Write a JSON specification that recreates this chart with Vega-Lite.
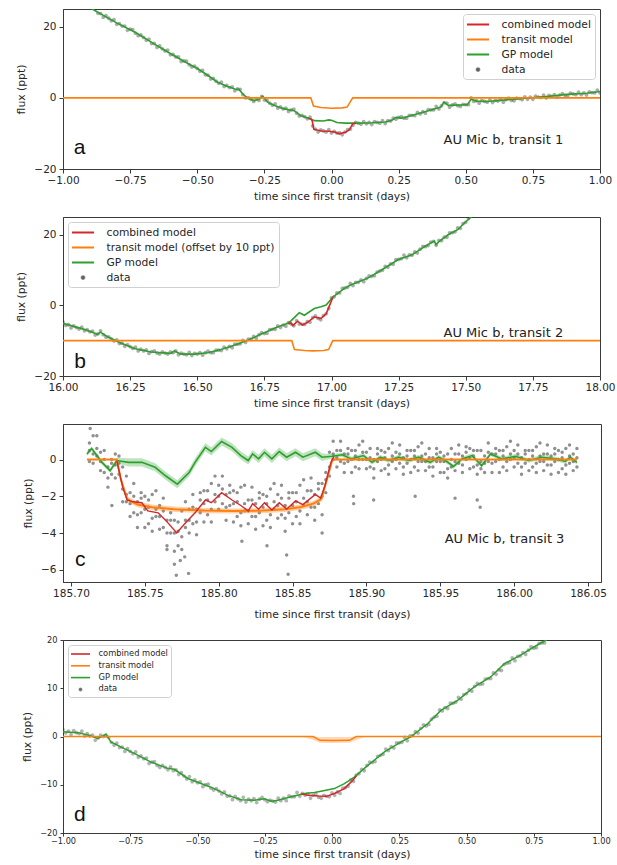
{
"$schema": "https://vega.github.io/schema/vega-lite/v6.json",
"background": "white",
"padding": {"left": 15, "top": 8, "right": 10, "bottom": 2},
"spacing": 14,
"config": {
 "font": "DejaVu Sans",
 "view": {"stroke": "#3a3a3a", "strokeWidth": 1},
 "axis": {"grid": false, "domainColor": "#3a3a3a", "tickColor": "#3a3a3a", "tickSize": 4, "labelColor": "#262626", "titleColor": "#262626", "labelFont": "DejaVu Sans", "titleFont": "DejaVu Sans", "labelFontSize": 10.5, "titleFontSize": 10.8, "titleFontWeight": "normal", "labelFlush": false, "labelOverlap": false, "labelPadding": 2, "titlePadding": 5},
 "axisY": {"labelPadding": 3, "titlePadding": 7},
 "legend": {"fillColor": "white", "strokeColor": "#d0d0d0", "cornerRadius": 3, "padding": 4, "labelFont": "DejaVu Sans", "labelColor": "#262626", "labelFontSize": 10.7, "labelLimit": 400, "symbolSize": 121, "symbolStrokeWidth": 2, "symbolOffset": 4.5, "labelOffset": 17, "rowPadding": 3, "symbolOpacity": 1}
},
"resolve": {"scale": {"color": "independent", "shape": "independent"}, "legend": {"color": "independent", "shape": "independent"}},
"datasets": {
 "ad": [{"t":-0.88,"f":24.9},{"t":-0.87,"f":23.8},{"t":-0.86,"f":23.7},{"t":-0.85,"f":22.7},{"t":-0.84,"f":23.1},{"t":-0.83,"f":22.4},{"t":-0.82,"f":21.7},{"t":-0.81,"f":22.0},{"t":-0.80,"f":20.7},{"t":-0.79,"f":20.9},{"t":-0.78,"f":20.2},{"t":-0.77,"f":20.2},{"t":-0.76,"f":19.0},{"t":-0.75,"f":19.3},{"t":-0.74,"f":19.2},{"t":-0.73,"f":18.2},{"t":-0.72,"f":17.5},{"t":-0.71,"f":17.7},{"t":-0.70,"f":17.0},{"t":-0.69,"f":16.2},{"t":-0.68,"f":16.5},{"t":-0.67,"f":15.3},{"t":-0.66,"f":15.3},{"t":-0.65,"f":14.2},{"t":-0.64,"f":14.6},{"t":-0.63,"f":13.8},{"t":-0.62,"f":13.2},{"t":-0.61,"f":13.4},{"t":-0.60,"f":12.1},{"t":-0.59,"f":12.2},{"t":-0.58,"f":11.5},{"t":-0.57,"f":11.5},{"t":-0.56,"f":10.2},{"t":-0.55,"f":10.4},{"t":-0.54,"f":10.3},{"t":-0.53,"f":9.3},{"t":-0.52,"f":8.7},{"t":-0.51,"f":8.9},{"t":-0.50,"f":8.3},{"t":-0.49,"f":7.5},{"t":-0.48,"f":7.7},{"t":-0.47,"f":6.5},{"t":-0.46,"f":6.4},{"t":-0.45,"f":5.3},{"t":-0.44,"f":5.5},{"t":-0.43,"f":4.7},{"t":-0.42,"f":4.1},{"t":-0.41,"f":4.4},{"t":-0.40,"f":3.2},{"t":-0.39,"f":3.5},{"t":-0.38,"f":2.9},{"t":-0.37,"f":3.1},{"t":-0.36,"f":2.0},{"t":-0.35,"f":2.5},{"t":-0.34,"f":2.4},{"t":-0.33,"f":0.9},{"t":-0.32,"f":0.0},{"t":-0.31,"f":0.1},{"t":-0.30,"f":-0.4},{"t":-0.29,"f":-1.0},{"t":-0.28,"f":-0.2},{"t":-0.27,"f":-0.7},{"t":-0.26,"f":0.4},{"t":-0.25,"f":-0.6},{"t":-0.24,"f":-0.7},{"t":-0.23,"f":-1.5},{"t":-0.22,"f":-2.1},{"t":-0.21,"f":-1.7},{"t":-0.20,"f":-2.9},{"t":-0.19,"f":-2.5},{"t":-0.18,"f":-3.1},{"t":-0.17,"f":-2.9},{"t":-0.16,"f":-3.8},{"t":-0.15,"f":-3.4},{"t":-0.14,"f":-3.2},{"t":-0.13,"f":-4.3},{"t":-0.12,"f":-5.1},{"t":-0.11,"f":-4.9},{"t":-0.10,"f":-5.3},{"t":-0.09,"f":-5.9},{"t":-0.08,"f":-5.4},{"t":-0.07,"f":-7.9},{"t":-0.06,"f":-8.8},{"t":-0.05,"f":-9.6},{"t":-0.04,"f":-9.0},{"t":-0.03,"f":-9.3},{"t":-0.02,"f":-9.6},{"t":-0.01,"f":-8.9},{"t":0.00,"f":-9.9},{"t":0.01,"f":-9.4},{"t":0.02,"f":-9.9},{"t":0.03,"f":-9.8},{"t":0.04,"f":-10.4},{"t":0.05,"f":-9.6},{"t":0.06,"f":-8.9},{"t":0.07,"f":-8.8},{"t":0.08,"f":-7.7},{"t":0.09,"f":-6.9},{"t":0.10,"f":-7.1},{"t":0.11,"f":-7.4},{"t":0.12,"f":-6.7},{"t":0.13,"f":-7.3},{"t":0.14,"f":-6.9},{"t":0.15,"f":-7.5},{"t":0.16,"f":-6.7},{"t":0.17,"f":-6.9},{"t":0.18,"f":-7.1},{"t":0.19,"f":-6.4},{"t":0.20,"f":-7.2},{"t":0.21,"f":-6.4},{"t":0.22,"f":-6.5},{"t":0.23,"f":-5.7},{"t":0.24,"f":-6.0},{"t":0.25,"f":-5.5},{"t":0.26,"f":-5.3},{"t":0.27,"f":-5.7},{"t":0.28,"f":-5.7},{"t":0.29,"f":-4.9},{"t":0.30,"f":-4.9},{"t":0.31,"f":-5.0},{"t":0.32,"f":-4.1},{"t":0.33,"f":-4.5},{"t":0.34,"f":-3.9},{"t":0.35,"f":-4.3},{"t":0.36,"f":-3.3},{"t":0.37,"f":-3.4},{"t":0.38,"f":-3.4},{"t":0.39,"f":-2.4},{"t":0.40,"f":-3.1},{"t":0.41,"f":-2.2},{"t":0.42,"f":-1.4},{"t":0.43,"f":-1.5},{"t":0.44,"f":-2.6},{"t":0.45,"f":-2.0},{"t":0.46,"f":-1.7},{"t":0.47,"f":-2.2},{"t":0.48,"f":-2.4},{"t":0.49,"f":-1.8},{"t":0.50,"f":-1.9},{"t":0.51,"f":-1.9},{"t":0.52,"f":0.0},{"t":0.53,"f":-1.0},{"t":0.54,"f":-0.8},{"t":0.55,"f":-1.5},{"t":0.56,"f":-0.7},{"t":0.57,"f":-1.0},{"t":0.58,"f":-1.2},{"t":0.59,"f":-0.5},{"t":0.60,"f":-1.3},{"t":0.61,"f":-0.7},{"t":0.62,"f":-0.9},{"t":0.63,"f":-0.4},{"t":0.64,"f":-1.2},{"t":0.65,"f":-0.5},{"t":0.66,"f":-0.1},{"t":0.67,"f":-0.7},{"t":0.68,"f":-0.8},{"t":0.69,"f":-0.1},{"t":0.70,"f":-0.2},{"t":0.71,"f":-0.5},{"t":0.72,"f":0.3},{"t":0.73,"f":-0.4},{"t":0.74,"f":0.2},{"t":0.75,"f":-0.4},{"t":0.76,"f":0.5},{"t":0.77,"f":0.2},{"t":0.78,"f":0.1},{"t":0.79,"f":0.8},{"t":0.80,"f":0.0},{"t":0.81,"f":0.7},{"t":0.82,"f":0.4},{"t":0.83,"f":0.9},{"t":0.84,"f":0.2},{"t":0.85,"f":0.8},{"t":0.86,"f":1.2},{"t":0.87,"f":0.7},{"t":0.88,"f":0.6},{"t":0.89,"f":1.3},{"t":0.90,"f":1.1},{"t":0.91,"f":0.9},{"t":0.92,"f":1.6},{"t":0.93,"f":0.9},{"t":0.94,"f":1.4},{"t":0.95,"f":0.8},{"t":0.96,"f":1.7},{"t":0.97,"f":1.5},{"t":0.98,"f":1.4},{"t":0.99,"f":2.2},{"t":1.00,"f":1.4}],
 "ag": [{"t":-0.91,"f":25.8},{"t":-0.896,"f":25.2},{"t":-0.85,"f":23.2},{"t":-0.80,"f":21.1},{"t":-0.728,"f":18.3},{"t":-0.67,"f":15.6},{"t":-0.61,"f":12.9},{"t":-0.55,"f":10.3},{"t":-0.498,"f":8.2},{"t":-0.46,"f":6.3},{"t":-0.424,"f":4.4},{"t":-0.387,"f":3.2},{"t":-0.36,"f":2.5},{"t":-0.345,"f":2.4},{"t":-0.33,"f":1.1},{"t":-0.312,"f":-0.1},{"t":-0.287,"f":-0.75},{"t":-0.27,"f":-0.4},{"t":-0.256,"f":0.5},{"t":-0.238,"f":-1.2},{"t":-0.21,"f":-2.2},{"t":-0.176,"f":-3.1},{"t":-0.139,"f":-3.6},{"t":-0.114,"f":-5.0},{"t":-0.077,"f":-5.9},{"t":-0.064,"f":-6.4},{"t":-0.03,"f":-6.5},{"t":-0.01,"f":-6.2},{"t":0.0,"f":-6.3},{"t":0.02,"f":-6.9},{"t":0.05,"f":-7.1},{"t":0.10,"f":-7.1},{"t":0.15,"f":-7.0},{"t":0.20,"f":-6.8},{"t":0.225,"f":-6.3},{"t":0.24,"f":-5.5},{"t":0.26,"f":-5.7},{"t":0.295,"f":-5.0},{"t":0.357,"f":-3.7},{"t":0.407,"f":-2.6},{"t":0.419,"f":-1.2},{"t":0.435,"f":-2.1},{"t":0.48,"f":-2.0},{"t":0.506,"f":-1.9},{"t":0.52,"f":-0.4},{"t":0.54,"f":-0.9},{"t":0.58,"f":-1.0},{"t":0.631,"f":-0.7},{"t":0.70,"f":-0.2},{"t":0.755,"f":0.1},{"t":0.80,"f":0.4},{"t":0.879,"f":1.0},{"t":0.95,"f":1.3},{"t":1.0,"f":1.8}],
 "at": [{"t":-1,"f":0},{"t":-0.077,"f":0},{"t":-0.067,"f":-2.3},{"t":-0.04,"f":-2.7},{"t":0,"f":-2.9},{"t":0.04,"f":-2.8},{"t":0.058,"f":-2.6},{"t":0.079,"f":0},{"t":1,"f":0}],
 "ac": [{"t":-0.085,"f":-5.75},{"t":-0.077,"f":-5.9},{"t":-0.072,"f":-6.4},{"t":-0.066,"f":-8.8},{"t":-0.039,"f":-9.3},{"t":-0.008,"f":-9.4},{"t":0.011,"f":-9.6},{"t":0.029,"f":-10.1},{"t":0.054,"f":-9.6},{"t":0.067,"f":-8.9},{"t":0.079,"f":-7.3},{"t":0.09,"f":-7.1}],
 "bd": [{"t":16.00,"f":-4.7},{"t":16.01,"f":-5.7},{"t":16.02,"f":-5.5},{"t":16.03,"f":-6.4},{"t":16.04,"f":-5.8},{"t":16.05,"f":-6.3},{"t":16.06,"f":-6.7},{"t":16.07,"f":-6.2},{"t":16.08,"f":-7.2},{"t":16.09,"f":-6.9},{"t":16.10,"f":-7.5},{"t":16.11,"f":-7.3},{"t":16.12,"f":-8.4},{"t":16.13,"f":-8.1},{"t":16.14,"f":-7.2},{"t":16.15,"f":-8.3},{"t":16.16,"f":-9.0},{"t":16.17,"f":-8.9},{"t":16.18,"f":-9.5},{"t":16.19,"f":-10.1},{"t":16.20,"f":-9.8},{"t":16.21,"f":-10.8},{"t":16.22,"f":-10.7},{"t":16.23,"f":-11.6},{"t":16.24,"f":-11.1},{"t":16.25,"f":-11.7},{"t":16.26,"f":-12.2},{"t":16.27,"f":-11.8},{"t":16.28,"f":-12.9},{"t":16.29,"f":-12.4},{"t":16.30,"f":-12.9},{"t":16.31,"f":-12.6},{"t":16.32,"f":-13.6},{"t":16.33,"f":-13.1},{"t":16.34,"f":-12.9},{"t":16.35,"f":-13.5},{"t":16.36,"f":-13.8},{"t":16.37,"f":-13.2},{"t":16.38,"f":-13.5},{"t":16.39,"f":-13.8},{"t":16.40,"f":-13.2},{"t":16.41,"f":-13.4},{"t":16.42,"f":-12.9},{"t":16.43,"f":-14.0},{"t":16.44,"f":-13.5},{"t":16.45,"f":-13.8},{"t":16.46,"f":-14.0},{"t":16.47,"f":-13.3},{"t":16.48,"f":-14.2},{"t":16.49,"f":-13.6},{"t":16.50,"f":-13.8},{"t":16.51,"f":-13.4},{"t":16.52,"f":-14.1},{"t":16.53,"f":-13.4},{"t":16.54,"f":-13.0},{"t":16.55,"f":-13.4},{"t":16.56,"f":-13.4},{"t":16.57,"f":-12.7},{"t":16.58,"f":-12.7},{"t":16.59,"f":-12.8},{"t":16.60,"f":-11.8},{"t":16.61,"f":-12.3},{"t":16.62,"f":-11.6},{"t":16.63,"f":-12.0},{"t":16.64,"f":-11.0},{"t":16.65,"f":-11.0},{"t":16.66,"f":-10.9},{"t":16.67,"f":-9.9},{"t":16.68,"f":-10.5},{"t":16.69,"f":-9.6},{"t":16.70,"f":-9.6},{"t":16.71,"f":-8.8},{"t":16.72,"f":-9.3},{"t":16.73,"f":-8.3},{"t":16.74,"f":-7.7},{"t":16.75,"f":-8.0},{"t":16.76,"f":-7.9},{"t":16.77,"f":-6.9},{"t":16.78,"f":-6.8},{"t":16.79,"f":-6.8},{"t":16.80,"f":-5.8},{"t":16.81,"f":-6.3},{"t":16.82,"f":-5.6},{"t":16.83,"f":-5.9},{"t":16.84,"f":-4.9},{"t":16.85,"f":-5.3},{"t":16.86,"f":-5.8},{"t":16.87,"f":-4.3},{"t":16.88,"f":-5.3},{"t":16.89,"f":-5.3},{"t":16.90,"f":-5.4},{"t":16.91,"f":-4.6},{"t":16.92,"f":-4.8},{"t":16.93,"f":-3.5},{"t":16.94,"f":-3.0},{"t":16.95,"f":-3.7},{"t":16.96,"f":-4.1},{"t":16.97,"f":-2.9},{"t":16.98,"f":-2.4},{"t":16.99,"f":-0.9},{"t":17.00,"f":2.1},{"t":17.01,"f":2.4},{"t":17.02,"f":3.5},{"t":17.03,"f":3.5},{"t":17.04,"f":4.8},{"t":17.05,"f":4.9},{"t":17.06,"f":5.1},{"t":17.07,"f":6.2},{"t":17.08,"f":5.6},{"t":17.09,"f":6.5},{"t":17.10,"f":6.5},{"t":17.11,"f":7.2},{"t":17.12,"f":6.7},{"t":17.13,"f":7.6},{"t":17.14,"f":8.3},{"t":17.15,"f":8.2},{"t":17.16,"f":8.4},{"t":17.17,"f":9.4},{"t":17.18,"f":9.7},{"t":17.19,"f":9.9},{"t":17.20,"f":11.0},{"t":17.21,"f":10.8},{"t":17.22,"f":11.7},{"t":17.23,"f":11.6},{"t":17.24,"f":12.9},{"t":17.25,"f":13.0},{"t":17.26,"f":13.2},{"t":17.27,"f":14.2},{"t":17.28,"f":13.5},{"t":17.29,"f":14.3},{"t":17.30,"f":14.2},{"t":17.31,"f":15.1},{"t":17.32,"f":14.8},{"t":17.33,"f":15.9},{"t":17.34,"f":16.7},{"t":17.35,"f":16.6},{"t":17.36,"f":16.9},{"t":17.37,"f":17.9},{"t":17.38,"f":18.1},{"t":17.39,"f":17.0},{"t":17.40,"f":18.4},{"t":17.41,"f":18.3},{"t":17.42,"f":19.3},{"t":17.43,"f":19.3},{"t":17.44,"f":20.5},{"t":17.45,"f":20.6},{"t":17.46,"f":20.8},{"t":17.47,"f":21.9},{"t":17.48,"f":21.8},{"t":17.49,"f":23.1},{"t":17.50,"f":23.5},{"t":17.51,"f":24.6}],
 "bg": [{"t":16.0,"f":-5.1},{"t":16.079,"f":-6.8},{"t":16.129,"f":-8.2},{"t":16.139,"f":-7.6},{"t":16.166,"f":-8.9},{"t":16.204,"f":-10.3},{"t":16.266,"f":-12.2},{"t":16.328,"f":-13.2},{"t":16.402,"f":-13.6},{"t":16.415,"f":-12.9},{"t":16.439,"f":-13.8},{"t":16.489,"f":-13.8},{"t":16.539,"f":-13.4},{"t":16.588,"f":-12.5},{"t":16.638,"f":-11.3},{"t":16.688,"f":-9.9},{"t":16.737,"f":-8.2},{"t":16.787,"f":-6.5},{"t":16.837,"f":-5.1},{"t":16.849,"f":-4.4},{"t":16.868,"f":-3.0},{"t":16.88,"f":-2.1},{"t":16.899,"f":-2.8},{"t":16.936,"f":-0.9},{"t":16.961,"f":-0.4},{"t":16.98,"f":0.1},{"t":17.005,"f":2.3},{"t":17.048,"f":4.8},{"t":17.073,"f":5.8},{"t":17.135,"f":7.7},{"t":17.197,"f":10.5},{"t":17.247,"f":12.9},{"t":17.30,"f":14.3},{"t":17.35,"f":16.8},{"t":17.383,"f":18.2},{"t":17.389,"f":17.2},{"t":17.40,"f":18.0},{"t":17.433,"f":19.9},{"t":17.47,"f":21.4},{"t":17.495,"f":23.3},{"t":17.52,"f":25.0},{"t":17.535,"f":26.5}],
 "bt": [{"t":16,"f":-10},{"t":16.852,"f":-10},{"t":16.862,"f":-12.5},{"t":16.9,"f":-12.8},{"t":16.93,"f":-12.9},{"t":16.97,"f":-12.8},{"t":16.989,"f":-12.5},{"t":17.005,"f":-10},{"t":18,"f":-10}],
 "bc": [{"t":16.84,"f":-5.2},{"t":16.849,"f":-5.0},{"t":16.856,"f":-5.7},{"t":16.874,"f":-4.5},{"t":16.892,"f":-5.6},{"t":16.911,"f":-4.8},{"t":16.936,"f":-3.3},{"t":16.961,"f":-3.7},{"t":16.98,"f":-2.4},{"t":16.993,"f":0.0},{"t":17.005,"f":2.3}],
 "cd": [{"t":185.7125,"a":0.9,"b":-0.1,"c":0.5},{"t":185.715,"a":0.3,"b":1.3,"c":-0.2},{"t":185.7175,"a":0.6,"b":0.2,"c":1.3},{"t":185.72,"a":-0.6,"b":0.4,"c":-0.1},{"t":185.7225,"a":0.5,"b":-0.7,"c":0.0},{"t":185.725,"a":-1.0,"b":-0.4,"c":-1.5},{"t":185.7275,"a":-0.2,"b":0.0,"c":-0.8},{"t":185.73,"a":-1.0,"b":-0.3,"c":0.3},{"t":185.7325,"a":0.2,"b":-0.8,"c":-0.2},{"t":185.735,"a":-1.6,"b":-0.4,"c":-2.3},{"t":185.7375,"a":-1.9,"b":-2.3,"c":-0.9},{"t":185.74,"a":-3.1,"b":-1.8,"c":-2.4},{"t":185.7425,"a":-1.3,"b":-2.9,"c":-2.0},{"t":185.745,"a":-3.0,"b":-2.3,"c":-3.7},{"t":185.7475,"a":-2.1,"b":-1.8,"c":-2.9},{"t":185.75,"a":-3.7,"b":-2.7,"c":-2.0},{"t":185.7525,"a":-2.2,"b":-3.5,"c":-2.6},{"t":185.755,"a":-3.2,"b":-1.9,"c":-3.9},{"t":185.7575,"a":-2.7,"b":-3.1,"c":-1.7},{"t":185.76,"a":-3.8,"b":-2.5,"c":-3.1},{"t":185.7625,"a":-2.1,"b":-3.7,"c":-2.8},{"t":185.765,"a":-4.0,"b":-3.3,"c":-4.7},{"t":185.7675,"a":-3.3,"b":-2.9,"c":-4.0},{"t":185.77,"a":-5.0,"b":-4.0,"c":-3.3},{"t":185.7725,"a":-3.4,"b":-4.7,"c":-3.9},{"t":185.775,"a":-4.2,"b":-2.8,"c":-4.9},{"t":185.7775,"a":-3.3,"b":-3.7,"c":-2.3},{"t":185.78,"a":-4.0,"b":-2.7,"c":-3.3},{"t":185.7825,"a":-1.9,"b":-3.5,"c":-2.6},{"t":185.785,"a":-3.4,"b":-2.7,"c":-4.1},{"t":185.7875,"a":-2.2,"b":-1.8,"c":-2.9},{"t":185.79,"a":-3.4,"b":-2.4,"c":-1.7},{"t":185.7925,"a":-1.7,"b":-3.0,"c":-2.2},{"t":185.795,"a":-2.7,"b":-1.3,"c":-3.4},{"t":185.7975,"a":-1.9,"b":-2.3,"c":-0.9},{"t":185.80,"a":-2.7,"b":-1.4,"c":-2.0},{"t":185.8025,"a":-0.9,"b":-2.4,"c":-1.6},{"t":185.805,"a":-2.6,"b":-1.9,"c":-3.3},{"t":185.8075,"a":-1.8,"b":-1.4,"c":-2.5},{"t":185.81,"a":-3.4,"b":-2.4,"c":-1.7},{"t":185.8125,"a":-1.8,"b":-3.1,"c":-2.3},{"t":185.815,"a":-2.9,"b":-1.5,"c":-3.6},{"t":185.8175,"a":-2.4,"b":-2.8,"c":-1.4},{"t":185.82,"a":-3.5,"b":-2.2,"c":-2.8},{"t":185.8225,"a":-1.5,"b":-3.1,"c":-2.2},{"t":185.825,"a":-3.1,"b":-2.4,"c":-3.8},{"t":185.8275,"a":-2.1,"b":-1.8,"c":-2.9},{"t":185.83,"a":-3.6,"b":-2.6,"c":-1.9},{"t":185.8325,"a":-2.0,"b":-3.3,"c":-2.4},{"t":185.835,"a":-3.0,"b":-1.6,"c":-3.7},{"t":185.8375,"a":-2.3,"b":-2.7,"c":-1.3},{"t":185.84,"a":-3.2,"b":-1.9,"c":-2.5},{"t":185.8425,"a":-1.4,"b":-3.0,"c":-2.1},{"t":185.845,"a":-3.2,"b":-2.5,"c":-3.9},{"t":185.8475,"a":-2.1,"b":-1.8,"c":-2.9},{"t":185.85,"a":-3.5,"b":-2.5,"c":-1.8},{"t":185.8525,"a":-1.8,"b":-3.1,"c":-2.3},{"t":185.855,"a":-2.8,"b":-1.4,"c":-3.5},{"t":185.8575,"a":-2.1,"b":-2.5,"c":-1.1},{"t":185.86,"a":-3.0,"b":-1.7,"c":-2.3},{"t":185.8625,"a":-1.0,"b":-2.6,"c":-1.7},{"t":185.865,"a":-2.6,"b":-1.9,"c":-3.3},{"t":185.8675,"a":-1.6,"b":-1.3,"c":-2.4},{"t":185.87,"a":-3.0,"b":-2.0,"c":-1.3},{"t":185.8725,"a":-0.7,"b":-1.8,"c":-1.1},{"t":185.875,"a":-0.4,"b":0.4,"c":-0.9},{"t":185.8775,"a":0.3,"b":0.0,"c":1.0},{"t":185.88,"a":-0.4,"b":0.5,"c":0.1},{"t":185.8825,"a":1.0,"b":-0.1,"c":0.5},{"t":185.885,"a":-0.2,"b":0.3,"c":-0.7},{"t":185.8875,"a":0.3,"b":0.6,"c":-0.1},{"t":185.89,"a":-0.7,"b":0.0,"c":0.5},{"t":185.8925,"a":0.5,"b":-0.4,"c":0.2},{"t":185.895,"a":0.0,"b":0.8,"c":-0.5},{"t":185.8975,"a":0.4,"b":0.0,"c":1.0},{"t":185.90,"a":-0.5,"b":0.4,"c":0.0},{"t":185.9025,"a":0.6,"b":-0.4,"c":0.1},{"t":185.905,"a":-0.5,"b":0.0,"c":-1.0},{"t":185.9075,"a":0.3,"b":0.6,"c":-0.1},{"t":185.91,"a":-0.6,"b":0.0,"c":0.5},{"t":185.9125,"a":0.4,"b":-0.5,"c":0.1},{"t":185.915,"a":-0.3,"b":0.6,"c":-0.8},{"t":185.9175,"a":0.2,"b":-0.1,"c":0.9},{"t":185.92,"a":-0.5,"b":0.4,"c":0.0},{"t":185.9225,"a":0.8,"b":-0.2,"c":0.3},{"t":185.925,"a":-0.4,"b":0.1,"c":-0.8},{"t":185.9275,"a":0.2,"b":0.5,"c":-0.2},{"t":185.93,"a":-0.7,"b":0.0,"c":0.5},{"t":185.9325,"a":0.5,"b":-0.4,"c":0.2},{"t":185.935,"a":-0.1,"b":0.7,"c":-0.6},{"t":185.9375,"a":0.2,"b":-0.1,"c":0.9},{"t":185.94,"a":-0.6,"b":0.3,"c":-0.1},{"t":185.9425,"a":0.6,"b":-0.4,"c":0.1},{"t":185.945,"a":-0.4,"b":0.1,"c":-0.9},{"t":185.9475,"a":0.3,"b":0.6,"c":-0.1},{"t":185.95,"a":-0.7,"b":-0.1,"c":0.4},{"t":185.9525,"a":0.2,"b":-0.7,"c":-0.1},{"t":185.955,"a":-0.5,"b":0.3,"c":-1.0},{"t":185.9575,"a":0.0,"b":-0.4,"c":0.6},{"t":185.96,"a":-0.6,"b":0.3,"c":-0.1},{"t":185.9625,"a":0.8,"b":-0.2,"c":0.3},{"t":185.965,"a":-0.3,"b":0.2,"c":-0.7},{"t":185.9675,"a":0.4,"b":0.7,"c":0.0},{"t":185.97,"a":-0.5,"b":0.1,"c":0.6},{"t":185.9725,"a":0.5,"b":-0.4,"c":0.2},{"t":185.975,"a":-0.3,"b":0.5,"c":-0.8},{"t":185.9775,"a":-0.1,"b":-0.5,"c":0.5},{"t":185.98,"a":-0.7,"b":0.2,"c":-0.2},{"t":185.9825,"a":0.9,"b":-0.1,"c":0.4},{"t":185.985,"a":-0.2,"b":0.3,"c":-0.7},{"t":185.9875,"a":0.3,"b":0.6,"c":-0.1},{"t":185.99,"a":-0.7,"b":0.0,"c":0.5},{"t":185.9925,"a":0.5,"b":-0.4,"c":0.2},{"t":185.995,"a":-0.1,"b":0.7,"c":-0.6},{"t":185.9975,"a":0.3,"b":0.0,"c":1.0},{"t":186.00,"a":-0.4,"b":0.5,"c":0.1},{"t":186.0025,"a":0.8,"b":-0.2,"c":0.3},{"t":186.005,"a":-0.4,"b":0.1,"c":-0.8},{"t":186.0075,"a":0.3,"b":0.5,"c":-0.2},{"t":186.01,"a":-0.6,"b":0.0,"c":0.5},{"t":186.0125,"a":0.5,"b":-0.4,"c":0.2},{"t":186.015,"a":-0.2,"b":0.7,"c":-0.7},{"t":186.0175,"a":0.2,"b":-0.1,"c":0.9},{"t":186.02,"a":-0.6,"b":0.3,"c":-0.1},{"t":186.0225,"a":0.8,"b":-0.3,"c":0.3},{"t":186.025,"a":-0.3,"b":0.2,"c":-0.8},{"t":186.0275,"a":0.3,"b":0.6,"c":-0.1},{"t":186.03,"a":-0.7,"b":0.0,"c":0.5},{"t":186.0325,"a":0.4,"b":-0.5,"c":0.1},{"t":186.035,"a":-0.3,"b":0.6,"c":-0.8},{"t":186.0375,"a":0.2,"b":-0.2,"c":0.8},{"t":186.04,"a":-0.6,"b":0.3,"c":-0.1},{"t":186.0425,"a":0.6,"b":-0.4,"c":0.1},{"t":185.7713,"a":-6.3},{"t":185.7796,"a":-6.2},{"t":185.774,"a":-5.5},{"t":185.777,"a":-5.3},{"t":185.8327,"a":-4.7},{"t":185.846,"a":-5.2},{"t":185.847,"a":-6.25},{"t":185.8157,"a":-4.45},{"t":185.7277,"a":-2.5},{"t":185.713,"a":1.7},{"t":185.8914,"a":-2.4},{"t":185.8912,"a":-2.0},{"t":185.9049,"a":-2.2},{"t":185.933,"a":-2.0},{"t":185.96,"a":-2.1},{"t":185.975,"a":-2.2},{"t":185.977,"a":-2.6},{"t":185.87,"a":-4.0},{"t":185.765,"a":-4.9},{"t":185.77,"a":-5.7}],
 "cg": [{"t":185.7108,"f":0.31,"lo":0.19,"hi":0.43},{"t":185.714,"f":0.6,"lo":0.48,"hi":0.72},{"t":185.721,"f":-0.15,"lo":-0.27,"hi":-0.03},{"t":185.7265,"f":-0.6,"lo":-0.72,"hi":-0.48},{"t":185.731,"f":-0.05,"lo":-0.2,"hi":0.1},{"t":185.739,"f":-0.15,"lo":-0.37,"hi":0.07},{"t":185.748,"f":-0.15,"lo":-0.37,"hi":0.07},{"t":185.757,"f":-0.42,"lo":-0.64,"hi":-0.2},{"t":185.764,"f":-0.88,"lo":-1.1,"hi":-0.66},{"t":185.772,"f":-1.34,"lo":-1.56,"hi":-1.12},{"t":185.78,"f":-0.7,"lo":-0.92,"hi":-0.48},{"t":185.784,"f":-0.15,"lo":-0.37,"hi":0.07},{"t":185.791,"f":0.67,"lo":0.45,"hi":0.89},{"t":185.795,"f":0.44,"lo":0.22,"hi":0.66},{"t":185.802,"f":0.99,"lo":0.77,"hi":1.21},{"t":185.809,"f":0.67,"lo":0.45,"hi":0.89},{"t":185.815,"f":0.22,"lo":0.0,"hi":0.44},{"t":185.82,"f":-0.05,"lo":-0.27,"hi":0.17},{"t":185.823,"f":0.31,"lo":0.09,"hi":0.53},{"t":185.827,"f":0.04,"lo":-0.18,"hi":0.26},{"t":185.831,"f":0.4,"lo":0.18,"hi":0.62},{"t":185.836,"f":0.04,"lo":-0.18,"hi":0.26},{"t":185.841,"f":0.44,"lo":0.22,"hi":0.66},{"t":185.846,"f":0.13,"lo":-0.09,"hi":0.35},{"t":185.852,"f":0.4,"lo":0.18,"hi":0.62},{"t":185.857,"f":0.13,"lo":-0.09,"hi":0.35},{"t":185.8654,"f":0.4,"lo":0.18,"hi":0.62},{"t":185.87,"f":0.13,"lo":-0.07,"hi":0.33},{"t":185.8767,"f":0.18,"lo":0.06,"hi":0.3},{"t":185.8835,"f":0.26,"lo":0.14,"hi":0.38},{"t":185.89,"f":0.04,"lo":-0.08,"hi":0.16},{"t":185.898,"f":0.22,"lo":0.1,"hi":0.34},{"t":185.9038,"f":-0.15,"lo":-0.27,"hi":-0.03},{"t":185.9094,"f":0.13,"lo":0.01,"hi":0.25},{"t":185.915,"f":-0.05,"lo":-0.17,"hi":0.07},{"t":185.9218,"f":0.13,"lo":0.01,"hi":0.25},{"t":185.9286,"f":-0.05,"lo":-0.17,"hi":0.07},{"t":185.9353,"f":0.13,"lo":0.01,"hi":0.25},{"t":185.9432,"f":-0.15,"lo":-0.27,"hi":-0.03},{"t":185.9489,"f":0.13,"lo":0.01,"hi":0.25},{"t":185.9534,"f":-0.05,"lo":-0.17,"hi":0.07},{"t":185.959,"f":-0.37,"lo":-0.49,"hi":-0.25},{"t":185.9647,"f":0.04,"lo":-0.08,"hi":0.16},{"t":185.9715,"f":0.22,"lo":0.1,"hi":0.34},{"t":185.978,"f":-0.33,"lo":-0.45,"hi":-0.21},{"t":185.984,"f":0.31,"lo":0.19,"hi":0.43},{"t":185.9918,"f":0.04,"lo":-0.08,"hi":0.16},{"t":186.0008,"f":0.18,"lo":0.06,"hi":0.3},{"t":186.0098,"f":-0.05,"lo":-0.17,"hi":0.07},{"t":186.0188,"f":0.13,"lo":0.01,"hi":0.25},{"t":186.0279,"f":0.04,"lo":-0.08,"hi":0.16},{"t":186.0346,"f":-0.1,"lo":-0.22,"hi":0.02},{"t":186.038,"f":0.13,"lo":0.01,"hi":0.25},{"t":186.0425,"f":-0.15,"lo":-0.27,"hi":-0.03}],
 "ct": [{"t":185.7108,"f":0,"lo":0,"hi":0},{"t":185.731,"f":0,"lo":-0.05,"hi":0.05},{"t":185.7335,"f":-1.0,"lo":-1.15,"hi":-0.85},{"t":185.738,"f":-2.15,"lo":-2.3,"hi":-2.0},{"t":185.745,"f":-2.45,"lo":-2.6,"hi":-2.3},{"t":185.755,"f":-2.6,"lo":-2.75,"hi":-2.45},{"t":185.77,"f":-2.7,"lo":-2.85,"hi":-2.55},{"t":185.79,"f":-2.78,"lo":-2.92,"hi":-2.64},{"t":185.81,"f":-2.8,"lo":-2.94,"hi":-2.66},{"t":185.83,"f":-2.78,"lo":-2.92,"hi":-2.64},{"t":185.845,"f":-2.7,"lo":-2.85,"hi":-2.55},{"t":185.855,"f":-2.6,"lo":-2.75,"hi":-2.45},{"t":185.864,"f":-2.4,"lo":-2.55,"hi":-2.25},{"t":185.8695,"f":-2.15,"lo":-2.3,"hi":-2.0},{"t":185.8735,"f":-1.0,"lo":-1.15,"hi":-0.85},{"t":185.877,"f":0,"lo":-0.05,"hi":0.05},{"t":186.0425,"f":0,"lo":0,"hi":0}],
 "cc": [{"t":185.731,"f":-0.05},{"t":185.735,"f":-1.5},{"t":185.738,"f":-2.2},{"t":185.742,"f":-2.3},{"t":185.748,"f":-2.35},{"t":185.752,"f":-2.8},{"t":185.759,"f":-2.9},{"t":185.764,"f":-3.3},{"t":185.7716,"f":-4.0},{"t":185.777,"f":-3.5},{"t":185.784,"f":-2.9},{"t":185.791,"f":-2.2},{"t":185.795,"f":-2.35},{"t":185.802,"f":-1.8},{"t":185.809,"f":-2.2},{"t":185.815,"f":-2.5},{"t":185.82,"f":-2.8},{"t":185.823,"f":-2.4},{"t":185.827,"f":-2.7},{"t":185.831,"f":-2.35},{"t":185.836,"f":-2.75},{"t":185.841,"f":-2.35},{"t":185.846,"f":-2.7},{"t":185.852,"f":-2.25},{"t":185.857,"f":-2.45},{"t":185.8654,"f":-1.9},{"t":185.869,"f":-2.1},{"t":185.872,"f":-1.4},{"t":185.876,"f":-0.15},{"t":185.878,"f":0.18}],
 "dd": [{"t":-1.00,"f":1.4},{"t":-0.99,"f":0.7},{"t":-0.98,"f":1.1},{"t":-0.97,"f":0.4},{"t":-0.96,"f":1.2},{"t":-0.95,"f":0.8},{"t":-0.94,"f":0.6},{"t":-0.93,"f":1.1},{"t":-0.92,"f":0.1},{"t":-0.91,"f":0.6},{"t":-0.90,"f":0.1},{"t":-0.89,"f":0.3},{"t":-0.88,"f":-0.8},{"t":-0.87,"f":-0.3},{"t":-0.86,"f":0.3},{"t":-0.85,"f":0.0},{"t":-0.84,"f":0.1},{"t":-0.83,"f":-0.2},{"t":-0.82,"f":-1.2},{"t":-0.81,"f":-1.8},{"t":-0.80,"f":-1.4},{"t":-0.79,"f":-2.3},{"t":-0.78,"f":-2.2},{"t":-0.77,"f":-3.1},{"t":-0.76,"f":-2.5},{"t":-0.75,"f":-3.1},{"t":-0.74,"f":-3.6},{"t":-0.73,"f":-3.2},{"t":-0.72,"f":-4.3},{"t":-0.71,"f":-4.0},{"t":-0.70,"f":-4.6},{"t":-0.69,"f":-4.5},{"t":-0.68,"f":-5.6},{"t":-0.67,"f":-5.3},{"t":-0.66,"f":-5.2},{"t":-0.65,"f":-6.0},{"t":-0.64,"f":-6.4},{"t":-0.63,"f":-6.0},{"t":-0.62,"f":-6.4},{"t":-0.61,"f":-6.9},{"t":-0.60,"f":-6.3},{"t":-0.59,"f":-7.1},{"t":-0.58,"f":-6.9},{"t":-0.57,"f":-7.9},{"t":-0.56,"f":-7.5},{"t":-0.55,"f":-8.2},{"t":-0.54,"f":-8.8},{"t":-0.53,"f":-8.3},{"t":-0.52,"f":-9.4},{"t":-0.51,"f":-9.0},{"t":-0.50,"f":-9.6},{"t":-0.49,"f":-9.4},{"t":-0.48,"f":-10.4},{"t":-0.47,"f":-10.0},{"t":-0.46,"f":-9.9},{"t":-0.45,"f":-10.7},{"t":-0.44,"f":-11.1},{"t":-0.43,"f":-10.8},{"t":-0.42,"f":-11.3},{"t":-0.41,"f":-11.9},{"t":-0.40,"f":-11.5},{"t":-0.39,"f":-12.4},{"t":-0.38,"f":-12.3},{"t":-0.37,"f":-13.1},{"t":-0.36,"f":-12.4},{"t":-0.35,"f":-12.9},{"t":-0.34,"f":-13.3},{"t":-0.33,"f":-12.6},{"t":-0.32,"f":-13.6},{"t":-0.31,"f":-13.0},{"t":-0.30,"f":-13.3},{"t":-0.29,"f":-12.9},{"t":-0.28,"f":-13.7},{"t":-0.27,"f":-13.0},{"t":-0.26,"f":-12.6},{"t":-0.25,"f":-13.1},{"t":-0.24,"f":-13.5},{"t":-0.23,"f":-13.2},{"t":-0.22,"f":-13.4},{"t":-0.21,"f":-13.6},{"t":-0.20,"f":-12.8},{"t":-0.19,"f":-13.3},{"t":-0.18,"f":-12.8},{"t":-0.17,"f":-13.3},{"t":-0.16,"f":-12.3},{"t":-0.15,"f":-12.5},{"t":-0.14,"f":-12.5},{"t":-0.13,"f":-11.6},{"t":-0.12,"f":-12.4},{"t":-0.11,"f":-11.8},{"t":-0.10,"f":-12.2},{"t":-0.09,"f":-11.9},{"t":-0.08,"f":-12.8},{"t":-0.07,"f":-12.2},{"t":-0.06,"f":-11.9},{"t":-0.05,"f":-12.6},{"t":-0.04,"f":-12.8},{"t":-0.03,"f":-12.2},{"t":-0.02,"f":-12.4},{"t":-0.01,"f":-12.5},{"t":0.00,"f":-11.7},{"t":0.01,"f":-12.2},{"t":0.02,"f":-11.5},{"t":0.03,"f":-11.8},{"t":0.04,"f":-10.7},{"t":0.05,"f":-10.6},{"t":0.06,"f":-10.3},{"t":0.07,"f":-9.0},{"t":0.08,"f":-9.3},{"t":0.09,"f":-8.0},{"t":0.10,"f":-7.7},{"t":0.11,"f":-6.8},{"t":0.12,"f":-7.1},{"t":0.13,"f":-6.0},{"t":0.14,"f":-5.3},{"t":0.15,"f":-5.4},{"t":0.16,"f":-5.2},{"t":0.17,"f":-4.1},{"t":0.18,"f":-3.9},{"t":0.19,"f":-3.7},{"t":0.20,"f":-2.6},{"t":0.21,"f":-2.9},{"t":0.22,"f":-2.1},{"t":0.23,"f":-2.4},{"t":0.24,"f":-1.3},{"t":0.25,"f":-1.3},{"t":0.26,"f":-1.2},{"t":0.27,"f":-0.2},{"t":0.28,"f":-0.9},{"t":0.29,"f":0.1},{"t":0.30,"f":0.2},{"t":0.31,"f":1.0},{"t":0.32,"f":0.7},{"t":0.33,"f":1.7},{"t":0.34,"f":2.4},{"t":0.35,"f":2.2},{"t":0.36,"f":2.5},{"t":0.37,"f":3.6},{"t":0.38,"f":4.0},{"t":0.39,"f":4.2},{"t":0.40,"f":5.5},{"t":0.41,"f":5.3},{"t":0.42,"f":6.0},{"t":0.43,"f":5.8},{"t":0.44,"f":6.9},{"t":0.45,"f":6.9},{"t":0.46,"f":7.1},{"t":0.47,"f":8.1},{"t":0.48,"f":7.7},{"t":0.49,"f":8.7},{"t":0.50,"f":8.9},{"t":0.51,"f":9.7},{"t":0.52,"f":9.4},{"t":0.53,"f":10.4},{"t":0.54,"f":11.0},{"t":0.55,"f":10.8},{"t":0.56,"f":10.9},{"t":0.57,"f":11.9},{"t":0.58,"f":12.0},{"t":0.59,"f":12.0},{"t":0.60,"f":13.2},{"t":0.61,"f":12.9},{"t":0.62,"f":13.8},{"t":0.63,"f":13.7},{"t":0.64,"f":14.9},{"t":0.65,"f":15.2},{"t":0.66,"f":15.3},{"t":0.67,"f":16.3},{"t":0.68,"f":15.7},{"t":0.69,"f":16.6},{"t":0.70,"f":16.7},{"t":0.71,"f":17.4},{"t":0.72,"f":17.0},{"t":0.73,"f":17.9},{"t":0.74,"f":18.6},{"t":0.75,"f":18.3},{"t":0.76,"f":18.4},{"t":0.77,"f":19.3},{"t":0.78,"f":19.4},{"t":0.79,"f":19.4}],
 "dg": [{"t":-1.0,"f":1.0},{"t":-0.945,"f":0.8},{"t":-0.908,"f":0.3},{"t":-0.871,"f":-0.4},{"t":-0.852,"f":0.1},{"t":-0.84,"f":0.5},{"t":-0.822,"f":-1.1},{"t":-0.772,"f":-2.5},{"t":-0.735,"f":-3.5},{"t":-0.673,"f":-5.3},{"t":-0.611,"f":-6.6},{"t":-0.586,"f":-6.8},{"t":-0.536,"f":-8.7},{"t":-0.487,"f":-9.75},{"t":-0.437,"f":-10.8},{"t":-0.387,"f":-12.2},{"t":-0.338,"f":-13.1},{"t":-0.288,"f":-13.2},{"t":-0.251,"f":-12.9},{"t":-0.226,"f":-13.4},{"t":-0.201,"f":-13.2},{"t":-0.152,"f":-12.5},{"t":-0.102,"f":-11.8},{"t":-0.065,"f":-11.6},{"t":-0.041,"f":-11.35},{"t":0.009,"f":-10.8},{"t":0.046,"f":-9.75},{"t":0.083,"f":-8.4},{"t":0.133,"f":-6.0},{"t":0.195,"f":-3.2},{"t":0.257,"f":-1.1},{"t":0.294,"f":0.0},{"t":0.356,"f":2.7},{"t":0.405,"f":5.4},{"t":0.467,"f":7.5},{"t":0.529,"f":10.3},{"t":0.591,"f":12.4},{"t":0.641,"f":15.1},{"t":0.703,"f":16.9},{"t":0.752,"f":18.6},{"t":0.796,"f":20.0},{"t":0.81,"f":20.6}],
 "dt": [{"t":-1,"f":0,"lo":0,"hi":0},{"t":-0.115,"f":0,"lo":0,"hi":0},{"t":-0.07,"f":0,"lo":-0.7,"hi":0},{"t":-0.045,"f":-0.8,"lo":-1.3,"hi":-0.1},{"t":0.0,"f":-0.85,"lo":-1.35,"hi":-0.1},{"t":0.065,"f":-0.8,"lo":-1.3,"hi":-0.1},{"t":0.09,"f":0,"lo":-0.7,"hi":0},{"t":0.125,"f":0,"lo":0,"hi":0},{"t":1,"f":0,"lo":0,"hi":0}],
 "dc": [{"t":-0.115,"f":-11.85},{"t":-0.09,"f":-12.2},{"t":-0.05,"f":-12.35},{"t":-0.02,"f":-12.4},{"t":0.009,"f":-11.8},{"t":0.046,"f":-10.8},{"t":0.077,"f":-9.1},{"t":0.09,"f":-8.2}]
},
"vconcat": [
 {
  "width": 537, "height": 160,
  "layer": [
   {"data": {"name": "ad"}, "mark": {"type": "point", "filled": true, "size": 230, "clip": true},
    "encoding": {
     "x": {"field": "t", "type": "quantitative", "scale": {"domain": [-1, 1], "nice": false, "zero": false}, "axis": {"values": [-1,-0.75,-0.5,-0.25,0,0.25,0.5,0.75,1], "format": ".2f"}, "title": "time since first transit (days)"},
     "y": {"field": "f", "type": "quantitative", "scale": {"domain": [-20, 25], "nice": false, "zero": false}, "axis": {"values": [-20,-10,0,10,20]}, "title": "flux (ppt)"},
     "color": {"datum": "data", "scale": {"domain": ["combined model","transit model","GP model","data"], "range": ["#d62728","#ff7f0e","#2ca02c","rgba(40,40,40,0.55)"]}, "legend": {"title": null, "orient": "top-right", "offset": 5}},
     "shape": {"datum": "data", "scale": {"domain": ["combined model","transit model","GP model","data"], "range": ["M-2,0H2","M-2,0H2","M-2,0H2","M-0.25,0A0.25,0.25 0 1,0 0.25,0A0.25,0.25 0 1,0 -0.25,0Z"]}, "legend": {"title": null, "orient": "top-right", "offset": 5}}
    }},
   {"data": {"name": "ag"}, "mark": {"type": "line", "strokeWidth": 1.6, "clip": true},
    "encoding": {"x": {"field": "t", "type": "quantitative"}, "y": {"field": "f", "type": "quantitative"}, "color": {"datum": "GP model", "scale": {"domain": ["combined model","transit model","GP model","data"], "range": ["#d62728","#ff7f0e","#2ca02c","rgba(40,40,40,0.55)"]}}}},
   {"data": {"name": "at"}, "mark": {"type": "line", "strokeWidth": 1.6, "clip": true},
    "encoding": {"x": {"field": "t", "type": "quantitative"}, "y": {"field": "f", "type": "quantitative"}, "color": {"datum": "transit model", "scale": {"domain": ["combined model","transit model","GP model","data"], "range": ["#d62728","#ff7f0e","#2ca02c","rgba(40,40,40,0.55)"]}}}},
   {"data": {"name": "ac"}, "mark": {"type": "line", "strokeWidth": 1.6, "clip": true},
    "encoding": {"x": {"field": "t", "type": "quantitative"}, "y": {"field": "f", "type": "quantitative"}, "color": {"datum": "combined model", "scale": {"domain": ["combined model","transit model","GP model","data"], "range": ["#d62728","#ff7f0e","#2ca02c","rgba(40,40,40,0.55)"]}}}},
   {"data": {"values": [{"label": "AU Mic b, transit 1"}]}, "mark": {"type": "text", "font": "DejaVu Sans", "fontSize": 13, "color": "#222222", "align": "center", "baseline": "middle"},
    "encoding": {"x": {"datum": 0.64, "type": "quantitative"}, "y": {"datum": -11.9, "type": "quantitative"}, "text": {"field": "label"}}},
   {"data": {"values": [{"label": "a"}]}, "mark": {"type": "text", "font": "Liberation Sans", "fontSize": 21, "color": "#111111", "align": "left", "baseline": "alphabetic"},
    "encoding": {"x": {"datum": -0.96, "type": "quantitative"}, "y": {"datum": -15.9, "type": "quantitative"}, "text": {"field": "label"}}}
  ]
 },
 {
  "width": 537, "height": 159,
  "layer": [
   {"data": {"name": "bd"}, "mark": {"type": "point", "filled": true, "size": 230, "clip": true},
    "encoding": {
     "x": {"field": "t", "type": "quantitative", "scale": {"domain": [16, 18], "nice": false, "zero": false}, "axis": {"values": [16,16.25,16.5,16.75,17,17.25,17.5,17.75,18], "format": ".2f"}, "title": "time since first transit (days)"},
     "y": {"field": "f", "type": "quantitative", "scale": {"domain": [-20, 25], "nice": false, "zero": false}, "axis": {"values": [-20,-10,0,10,20]}, "title": "flux (ppt)"},
     "color": {"datum": "data", "scale": {"domain": ["combined model","transit model","GP model","data"], "range": ["#d62728","#ff7f0e","#2ca02c","rgba(40,40,40,0.55)"]}, "legend": {"title": null, "orient": "top-left", "offset": 5, "labelExpr": "datum.label === 'transit model' ? 'transit model (offset by 10 ppt)' : datum.label"}},
     "shape": {"datum": "data", "scale": {"domain": ["combined model","transit model","GP model","data"], "range": ["M-2,0H2","M-2,0H2","M-2,0H2","M-0.25,0A0.25,0.25 0 1,0 0.25,0A0.25,0.25 0 1,0 -0.25,0Z"]}, "legend": {"title": null, "orient": "top-left", "offset": 5, "labelExpr": "datum.label === 'transit model' ? 'transit model (offset by 10 ppt)' : datum.label"}}
    }},
   {"data": {"name": "bg"}, "mark": {"type": "line", "strokeWidth": 1.6, "clip": true},
    "encoding": {"x": {"field": "t", "type": "quantitative"}, "y": {"field": "f", "type": "quantitative"}, "color": {"datum": "GP model", "scale": {"domain": ["combined model","transit model","GP model","data"], "range": ["#d62728","#ff7f0e","#2ca02c","rgba(40,40,40,0.55)"]}}}},
   {"data": {"name": "bt"}, "mark": {"type": "line", "strokeWidth": 1.6, "clip": true},
    "encoding": {"x": {"field": "t", "type": "quantitative"}, "y": {"field": "f", "type": "quantitative"}, "color": {"datum": "transit model", "scale": {"domain": ["combined model","transit model","GP model","data"], "range": ["#d62728","#ff7f0e","#2ca02c","rgba(40,40,40,0.55)"]}}}},
   {"data": {"name": "bc"}, "mark": {"type": "line", "strokeWidth": 1.6, "clip": true},
    "encoding": {"x": {"field": "t", "type": "quantitative"}, "y": {"field": "f", "type": "quantitative"}, "color": {"datum": "combined model", "scale": {"domain": ["combined model","transit model","GP model","data"], "range": ["#d62728","#ff7f0e","#2ca02c","rgba(40,40,40,0.55)"]}}}},
   {"data": {"values": [{"label": "AU Mic b, transit 2"}]}, "mark": {"type": "text", "font": "DejaVu Sans", "fontSize": 13, "color": "#222222", "align": "center", "baseline": "middle"},
    "encoding": {"x": {"datum": 17.64, "type": "quantitative"}, "y": {"datum": -7.9, "type": "quantitative"}, "text": {"field": "label"}}},
   {"data": {"values": [{"label": "b"}]}, "mark": {"type": "text", "font": "Liberation Sans", "fontSize": 21, "color": "#111111", "align": "left", "baseline": "alphabetic"},
    "encoding": {"x": {"datum": 16.042, "type": "quantitative"}, "y": {"datum": -17.7, "type": "quantitative"}, "text": {"field": "label"}}}
  ]
 },
 {
  "width": 538, "height": 158,
  "layer": [
   {"data": {"name": "cd"}, "transform": [{"fold": ["a","b","c"], "as": ["k","f"]}, {"filter": "isValid(datum.f)"}],
    "mark": {"type": "circle", "size": 12, "opacity": 0.55, "color": "#333333", "clip": true},
    "encoding": {
     "x": {"field": "t", "type": "quantitative", "scale": {"domain": [185.6946, 186.0588], "nice": false, "zero": false}, "axis": {"values": [185.7,185.75,185.8,185.85,185.9,185.95,186.0,186.05], "format": ".2f", "titlePadding": 10}, "title": "time since first transit (days)"},
     "y": {"field": "f", "type": "quantitative", "scale": {"domain": [-6.67, 1.94], "nice": false, "zero": false}, "axis": {"values": [-6,-4,-2,0]}, "title": "flux (ppt)"}
    }},
   {"data": {"name": "cg"}, "mark": {"type": "area", "color": "#2ca02c", "opacity": 0.3, "clip": true},
    "encoding": {"x": {"field": "t", "type": "quantitative"}, "y": {"field": "lo", "type": "quantitative"}, "y2": {"field": "hi"}}},
   {"data": {"name": "ct"}, "mark": {"type": "area", "color": "#ff7f0e", "opacity": 0.35, "clip": true},
    "encoding": {"x": {"field": "t", "type": "quantitative"}, "y": {"field": "lo", "type": "quantitative"}, "y2": {"field": "hi"}}},
   {"data": {"name": "cg"}, "mark": {"type": "line", "color": "#2ca02c", "strokeWidth": 1.6, "clip": true},
    "encoding": {"x": {"field": "t", "type": "quantitative"}, "y": {"field": "f", "type": "quantitative"}}},
   {"data": {"name": "ct"}, "mark": {"type": "line", "color": "#ff7f0e", "strokeWidth": 2, "clip": true},
    "encoding": {"x": {"field": "t", "type": "quantitative"}, "y": {"field": "f", "type": "quantitative"}}},
   {"data": {"name": "cc"}, "mark": {"type": "line", "color": "#d62728", "strokeWidth": 1.4, "clip": true},
    "encoding": {"x": {"field": "t", "type": "quantitative"}, "y": {"field": "f", "type": "quantitative"}}},
   {"data": {"values": [{"label": "AU Mic b, transit 3"}]}, "mark": {"type": "text", "font": "DejaVu Sans", "fontSize": 13, "color": "#222222", "align": "center", "baseline": "middle"},
    "encoding": {"x": {"datum": 185.9935, "type": "quantitative"}, "y": {"datum": -4.32, "type": "quantitative"}, "text": {"field": "label"}}},
   {"data": {"values": [{"label": "c"}]}, "mark": {"type": "text", "font": "Liberation Sans", "fontSize": 21, "color": "#111111", "align": "left", "baseline": "alphabetic"},
    "encoding": {"x": {"datum": 185.7027, "type": "quantitative"}, "y": {"datum": -5.82, "type": "quantitative"}, "text": {"field": "label"}}}
  ]
 },
 {
  "width": 538, "height": 193,
  "layer": [
   {"data": {"name": "dd"}, "mark": {"type": "point", "filled": true, "size": 230, "clip": true},
    "encoding": {
     "x": {"field": "t", "type": "quantitative", "scale": {"domain": [-1, 1], "nice": false, "zero": false}, "axis": {"values": [-1,-0.75,-0.5,-0.25,0,0.25,0.5,0.75,1], "format": ".2f", "labelFontSize": 8.2, "tickSize": 3, "labelPadding": 1, "titlePadding": 4}, "title": "time since first transit (days)"},
     "y": {"field": "f", "type": "quantitative", "scale": {"domain": [-20, 20], "nice": false, "zero": false}, "axis": {"values": [-20,-15,-10,-5,0,5,10,15,20], "labelFontSize": 8.2, "tickSize": 3}, "title": "flux (ppt)"},
     "color": {"datum": "data", "scale": {"domain": ["combined model","transit model","GP model","data"], "range": ["#d62728","#ff7f0e","#2ca02c","rgba(40,40,40,0.5)"]}, "legend": {"title": null, "orient": "top-left", "offset": 5, "labelFontSize": 8.3, "symbolSize": 90, "symbolOffset": 3.5, "labelOffset": 12, "rowPadding": 1.8, "padding": 3, "symbolStrokeWidth": 1.6}},
     "shape": {"datum": "data", "scale": {"domain": ["combined model","transit model","GP model","data"], "range": ["M-2,0H2","M-2,0H2","M-2,0H2","M-0.25,0A0.25,0.25 0 1,0 0.25,0A0.25,0.25 0 1,0 -0.25,0Z"]}, "legend": {"title": null, "orient": "top-left", "offset": 5, "labelFontSize": 8.3, "symbolSize": 90, "symbolOffset": 3.5, "labelOffset": 12, "rowPadding": 1.8, "padding": 3, "symbolStrokeWidth": 1.6}}
    }},
   {"data": {"name": "dt"}, "mark": {"type": "area", "color": "#ff7f0e", "opacity": 0.3, "clip": true},
    "encoding": {"x": {"field": "t", "type": "quantitative"}, "y": {"field": "lo", "type": "quantitative"}, "y2": {"field": "hi"}}},
   {"data": {"name": "dg"}, "mark": {"type": "line", "strokeWidth": 1.5, "clip": true},
    "encoding": {"x": {"field": "t", "type": "quantitative"}, "y": {"field": "f", "type": "quantitative"}, "color": {"datum": "GP model", "scale": {"domain": ["combined model","transit model","GP model","data"], "range": ["#d62728","#ff7f0e","#2ca02c","rgba(40,40,40,0.5)"]}}}},
   {"data": {"name": "dt"}, "mark": {"type": "line", "strokeWidth": 1.5, "clip": true},
    "encoding": {"x": {"field": "t", "type": "quantitative"}, "y": {"field": "f", "type": "quantitative"}, "color": {"datum": "transit model", "scale": {"domain": ["combined model","transit model","GP model","data"], "range": ["#d62728","#ff7f0e","#2ca02c","rgba(40,40,40,0.5)"]}}}},
   {"data": {"name": "dc"}, "mark": {"type": "line", "strokeWidth": 1.5, "clip": true},
    "encoding": {"x": {"field": "t", "type": "quantitative"}, "y": {"field": "f", "type": "quantitative"}, "color": {"datum": "combined model", "scale": {"domain": ["combined model","transit model","GP model","data"], "range": ["#d62728","#ff7f0e","#2ca02c","rgba(40,40,40,0.5)"]}}}},
   {"data": {"values": [{"label": "d"}]}, "mark": {"type": "text", "font": "Liberation Sans", "fontSize": 21, "color": "#111111", "align": "left", "baseline": "alphabetic"},
    "encoding": {"x": {"datum": -0.959, "type": "quantitative"}, "y": {"datum": -17.5, "type": "quantitative"}, "text": {"field": "label"}}}
  ]
 }
]
}
